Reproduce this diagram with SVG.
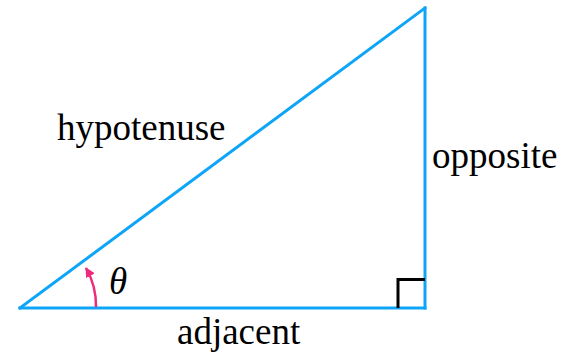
<svg xmlns="http://www.w3.org/2000/svg" width="573" height="354" viewBox="0 0 573 354">
<defs>
<style>
.side{stroke:#0ea5f8;stroke-width:3;fill:none;stroke-linecap:square}
.lbl{font-family:"Liberation Serif","Times New Roman",serif;font-size:37px;fill:#000}
</style>
<marker id="ah" viewBox="0 0 10 10" refX="9" refY="5" markerWidth="4" markerHeight="4" orient="auto">
<path d="M0,0 L10,5 L0,10 Z" fill="#ee2a7b"/>
</marker>
</defs>
<rect width="573" height="354" fill="#fff"/>
<g id="connectors">
<line class="side" x1="20" y1="308" x2="425" y2="8"/>
<line class="side" x1="20" y1="308" x2="425" y2="308"/>
<line class="side" x1="425" y1="8" x2="425" y2="308"/>
<path d="M398,308 V279.5 H425" stroke="#000" stroke-width="3" fill="none"/>
<path d="M96,307 A76,76 0 0 0 86,268" stroke="#ee2a7b" stroke-width="2.5" fill="none" marker-end="url(#ah)"/>
</g>
<g id="hypotenuse"><text class="lbl" x="57" y="140">hypotenuse</text></g>
<g id="opposite"><text class="lbl" x="432" y="168">opposite</text></g>
<g id="adjacent"><text class="lbl" x="177" y="344">adjacent</text></g>
<g id="theta"><text class="lbl" x="109" y="294" font-style="italic">θ</text></g>
</svg>
